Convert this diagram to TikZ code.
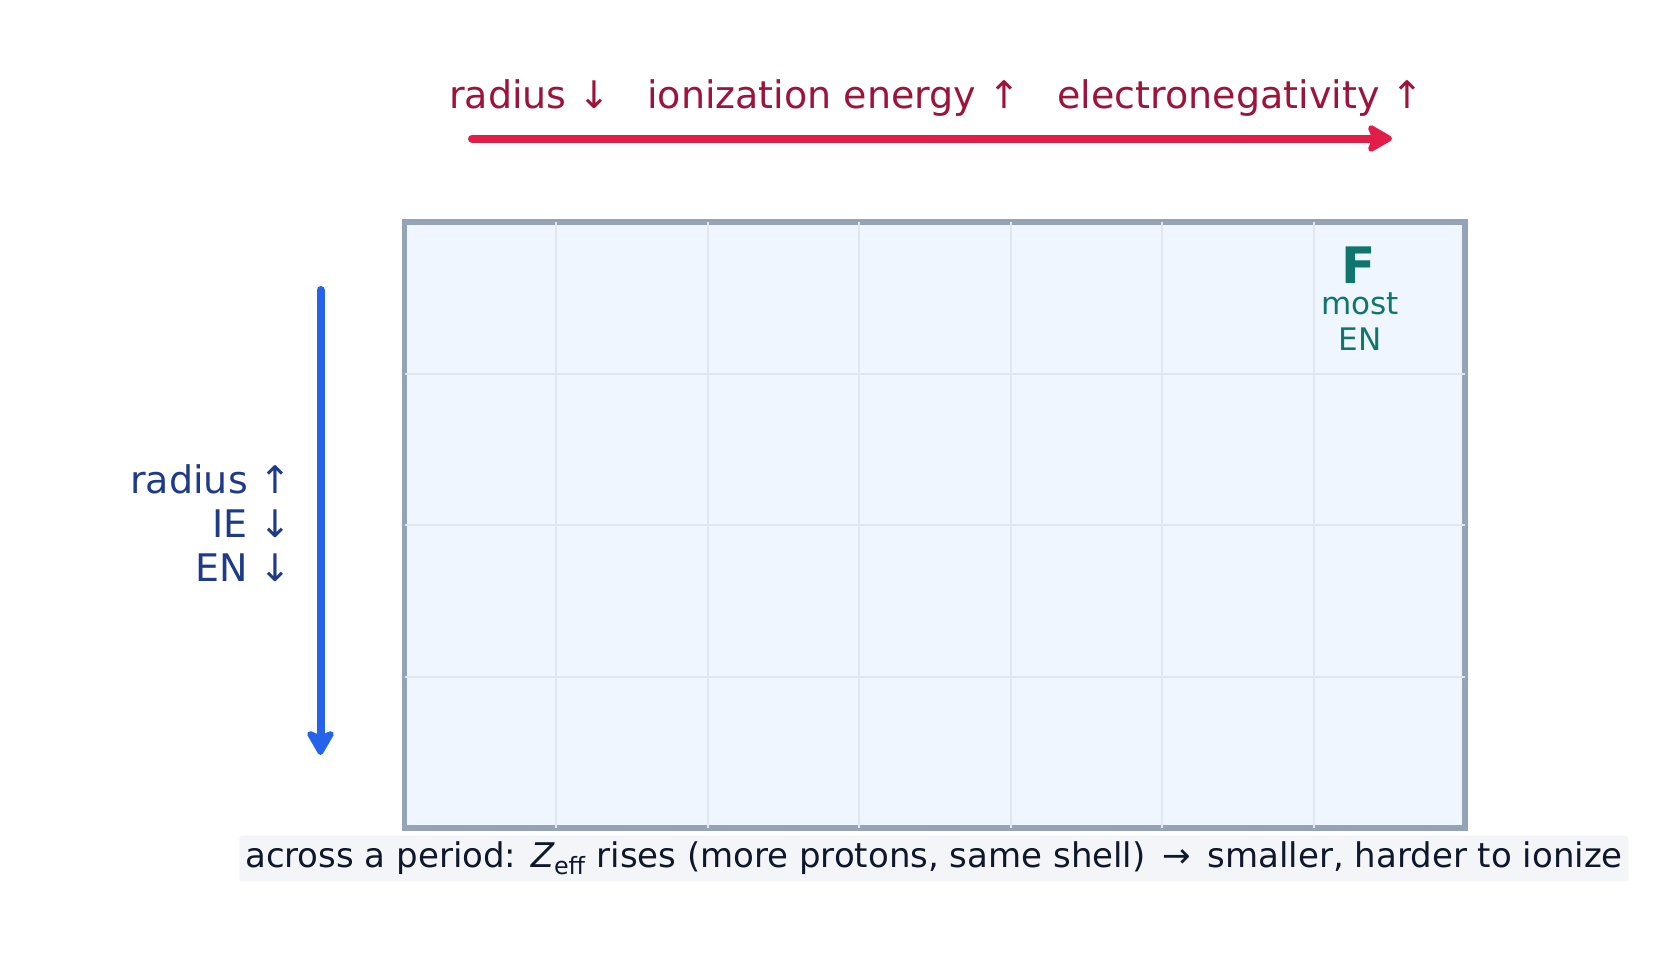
\documentclass[tikz,border=0pt]{standalone}
\usepackage{fontspec}
\setmainfont{DejaVu Sans}
\usetikzlibrary{arrows.meta,positioning}
\usepackage{xcolor}
\definecolor{mslate}{HTML}{94A3B8}
\definecolor{mcell}{HTML}{EFF6FF}
\definecolor{mgrid}{HTML}{DFE7F1}
\definecolor{mrose}{HTML}{E11D48}
\definecolor{mrosetext}{HTML}{9F1239}
\definecolor{mblue}{HTML}{2563EB}
\definecolor{mbluetext}{HTML}{1E3A8A}
\definecolor{mteal}{HTML}{0F766E}
\definecolor{mink}{HTML}{0F172A}
\definecolor{mnote}{HTML}{F3F5F8}

\begin{document}
\begin{tikzpicture}[x=0.75pt, y=-0.75pt,
  trend/.style={line width=6pt, line cap=round, -{Stealth[length=22pt, width=25pt, inset=5pt, round]}},
  toplabel/.style={inner sep=0pt, anchor=base west, text=mrosetext, font=\fontsize{28.5}{33}\selectfont},
  tealabel/.style={inner sep=0pt, anchor=base, text=mteal, font=\fontsize{23.3}{27.5}\selectfont},
  every node/.append style={inner sep=0pt}]
  \useasboundingbox (0,0) rectangle (1666,953);
  \pgfmathsetmacro{\cell}{151.5}
  % table of cells
  \fill [mcell] (404.5,222.2) rectangle ++(7*\cell, 4*\cell);
  \draw [mslate, line width=4.2pt] (404.5,222.2) rectangle ++(7*\cell, 4*\cell);
  \foreach \i in {1,...,6}
    \draw [mgrid, line width=1.5pt] ({404.5+\i*\cell},222.2) -- ++(0,4*\cell);
  \foreach \j in {1,2,3}
    \draw [mgrid, line width=1.5pt] (404.5,{222.2+\j*\cell}) -- ++(7*\cell,0);

  % across a period
  \node [toplabel] (radiusdown) at (449,108.3) {radius ↓};
  \node [right=27pt of radiusdown.base east, toplabel] (iedown) {ionization energy ↑};
  \node [right=27.75pt of iedown.base east, toplabel] (enup) {electronegativity ↑};
  \coordinate (acrossstart) at (472,138.5);
  \coordinate (acrossend) at (1392,138.5);
  \draw [trend, mrose] (acrossstart) -- (acrossend);

  % down a group
  \coordinate (downstart) at (320.5,290);
  \coordinate (downend) at (320.5,755);
  \draw [trend, mblue] (downstart) -- (downend);
  \node [anchor=east, align=right, text=mbluetext, font=\fontsize{28.5}{33}\selectfont] (grouplabel) at (292,523)
    {radius ↑\\IE ↓\\EN ↓};

  % fluorine
  \node [anchor=base, text=mteal, font=\fontsize{37.7}{40}\bfseries] (fluorine) at (1359,283.3) {F};
  \node [tealabel] (mostlabel) at (1360,314) {most};
  \node [tealabel] (enlabel) at (1360,350) {EN};

  % note
  \node [fill=mnote, rounded corners=2pt, inner xsep=4.3pt, minimum height=34.2pt, text=mink,
    font=\fontsize{25.5}{30}\selectfont] (note) at (934,858.5)
    {across a period: {\itshape Z}\textsubscript{eff} rises (more protons, same shell)\hspace{4.5pt} → \hspace{4.5pt}smaller, harder to ionize};
\end{tikzpicture}
\end{document}
